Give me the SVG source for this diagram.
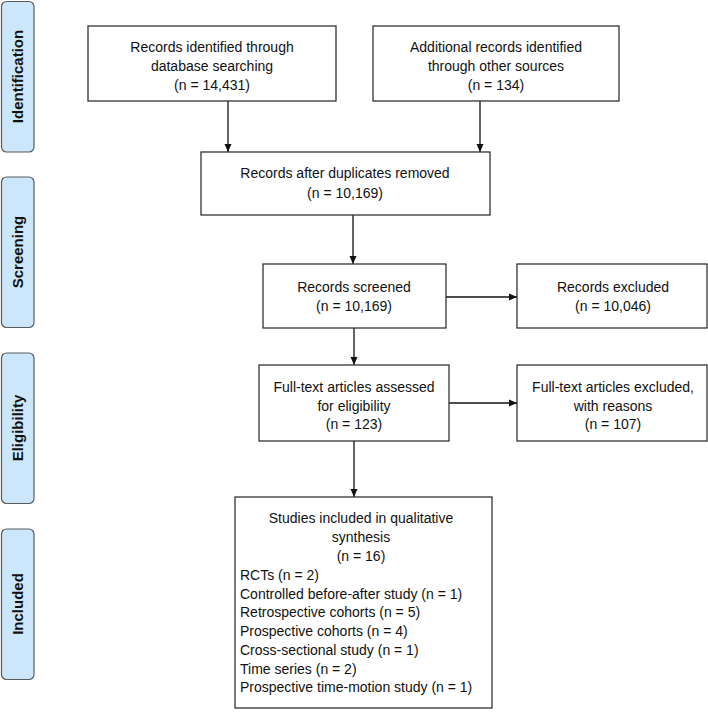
<svg xmlns="http://www.w3.org/2000/svg" width="708" height="712" viewBox="0 0 708 712">
<defs>
<marker id="arr" markerWidth="8" markerHeight="8" refX="8" refY="4" orient="auto" markerUnits="userSpaceOnUse">
<path d="M0,0.5 L8,4 L0,7.5 Z" fill="#111"/>
</marker>
<style>
.box{fill:#fff;stroke:#333;stroke-width:1.3}
.side{fill:#cce7fb;stroke:#5a5a5a;stroke-width:1.2}
.t{font-family:"Liberation Sans",Arial,sans-serif;font-size:14px;fill:#111;text-anchor:middle}
.l{font-family:"Liberation Sans",Arial,sans-serif;font-size:14px;fill:#111}
.s{font-family:"Liberation Sans",Arial,sans-serif;font-size:15px;font-weight:bold;fill:#111;text-anchor:middle}
.c{fill:none;stroke:#111;stroke-width:1.3}
</style>
</defs>
<rect width="708" height="712" fill="#fff"/>
<g id="side-identification"><rect class="side" x="1.5" y="1.5" width="32.5" height="150.5" rx="5"/><text class="s" transform="translate(23,76.5) rotate(-90)">Identification</text></g>
<g id="side-screening"><rect class="side" x="1.5" y="177" width="32.5" height="150.5" rx="5"/><text class="s" transform="translate(23,252) rotate(-90)">Screening</text></g>
<g id="side-eligibility"><rect class="side" x="1.5" y="353" width="32.5" height="150.5" rx="5"/><text class="s" transform="translate(23,428) rotate(-90)">Eligibility</text></g>
<g id="side-included"><rect class="side" x="1.5" y="529" width="32.5" height="150.5" rx="5"/><text class="s" transform="translate(23,604) rotate(-90)">Included</text></g>
<g id="connectors">
<line class="c" x1="228" y1="101" x2="228" y2="152" marker-end="url(#arr)"/>
<line class="c" x1="480" y1="101" x2="480" y2="152" marker-end="url(#arr)"/>
<line class="c" x1="353" y1="215" x2="353" y2="264" marker-end="url(#arr)"/>
<line class="c" x1="446" y1="297" x2="517" y2="297" marker-end="url(#arr)"/>
<line class="c" x1="354" y1="328" x2="354" y2="365" marker-end="url(#arr)"/>
<line class="c" x1="449" y1="403" x2="517" y2="403" marker-end="url(#arr)"/>
<line class="c" x1="354" y1="441" x2="354" y2="497" marker-end="url(#arr)"/>
</g>
<g id="n-db"><rect class="box" x="88" y="26" width="248" height="75"/>
<text class="t" x="212" y="52">Records identified through</text><text class="t" x="212" y="70.5">database searching</text><text class="t" x="212" y="89.5">(n = 14,431)</text></g>
<g id="n-other"><rect class="box" x="373" y="26" width="246" height="75"/>
<text class="t" x="496" y="52">Additional records identified</text><text class="t" x="496" y="70.5">through other sources</text><text class="t" x="496" y="89.5">(n = 134)</text></g>
<g id="n-dup"><rect class="box" x="201" y="152" width="289" height="63"/>
<text class="t" x="345" y="178">Records after duplicates removed</text><text class="t" x="345" y="198">(n = 10,169)</text></g>
<g id="n-screened"><rect class="box" x="263" y="264" width="183" height="64"/>
<text class="t" x="354" y="292">Records screened</text><text class="t" x="354" y="311">(n = 10,169)</text></g>
<g id="n-excluded"><rect class="box" x="517" y="264" width="190" height="64"/>
<text class="t" x="613" y="292">Records excluded</text><text class="t" x="613" y="311">(n = 10,046)</text></g>
<g id="n-fulltext"><rect class="box" x="259" y="365" width="190" height="76"/>
<text class="t" x="354" y="392">Full-text articles assessed</text><text class="t" x="354" y="410.5">for eligibility</text><text class="t" x="354" y="429">(n = 123)</text></g>
<g id="n-ftexcluded"><rect class="box" x="517" y="365" width="190" height="76"/>
<text class="t" x="613" y="392">Full-text articles excluded,</text><text class="t" x="613" y="410.5">with reasons</text><text class="t" x="613" y="429">(n = 107)</text></g>
<g id="n-included"><rect class="box" x="235" y="497" width="257" height="211"/>
<text class="t" x="361" y="523">Studies included in qualitative</text><text class="t" x="361" y="542">synthesis</text><text class="t" x="361" y="561">(n = 16)</text>
<text class="l" x="240" y="580">RCTs (n = 2)</text>
<text class="l" x="240" y="598.5">Controlled before-after study (n = 1)</text>
<text class="l" x="240" y="617">Retrospective cohorts (n = 5)</text>
<text class="l" x="240" y="636">Prospective cohorts (n = 4)</text>
<text class="l" x="240" y="655">Cross-sectional study (n = 1)</text>
<text class="l" x="240" y="673.5">Time series (n = 2)</text>
<text class="l" x="240" y="692">Prospective time-motion study (n = 1)</text></g>
</svg>
